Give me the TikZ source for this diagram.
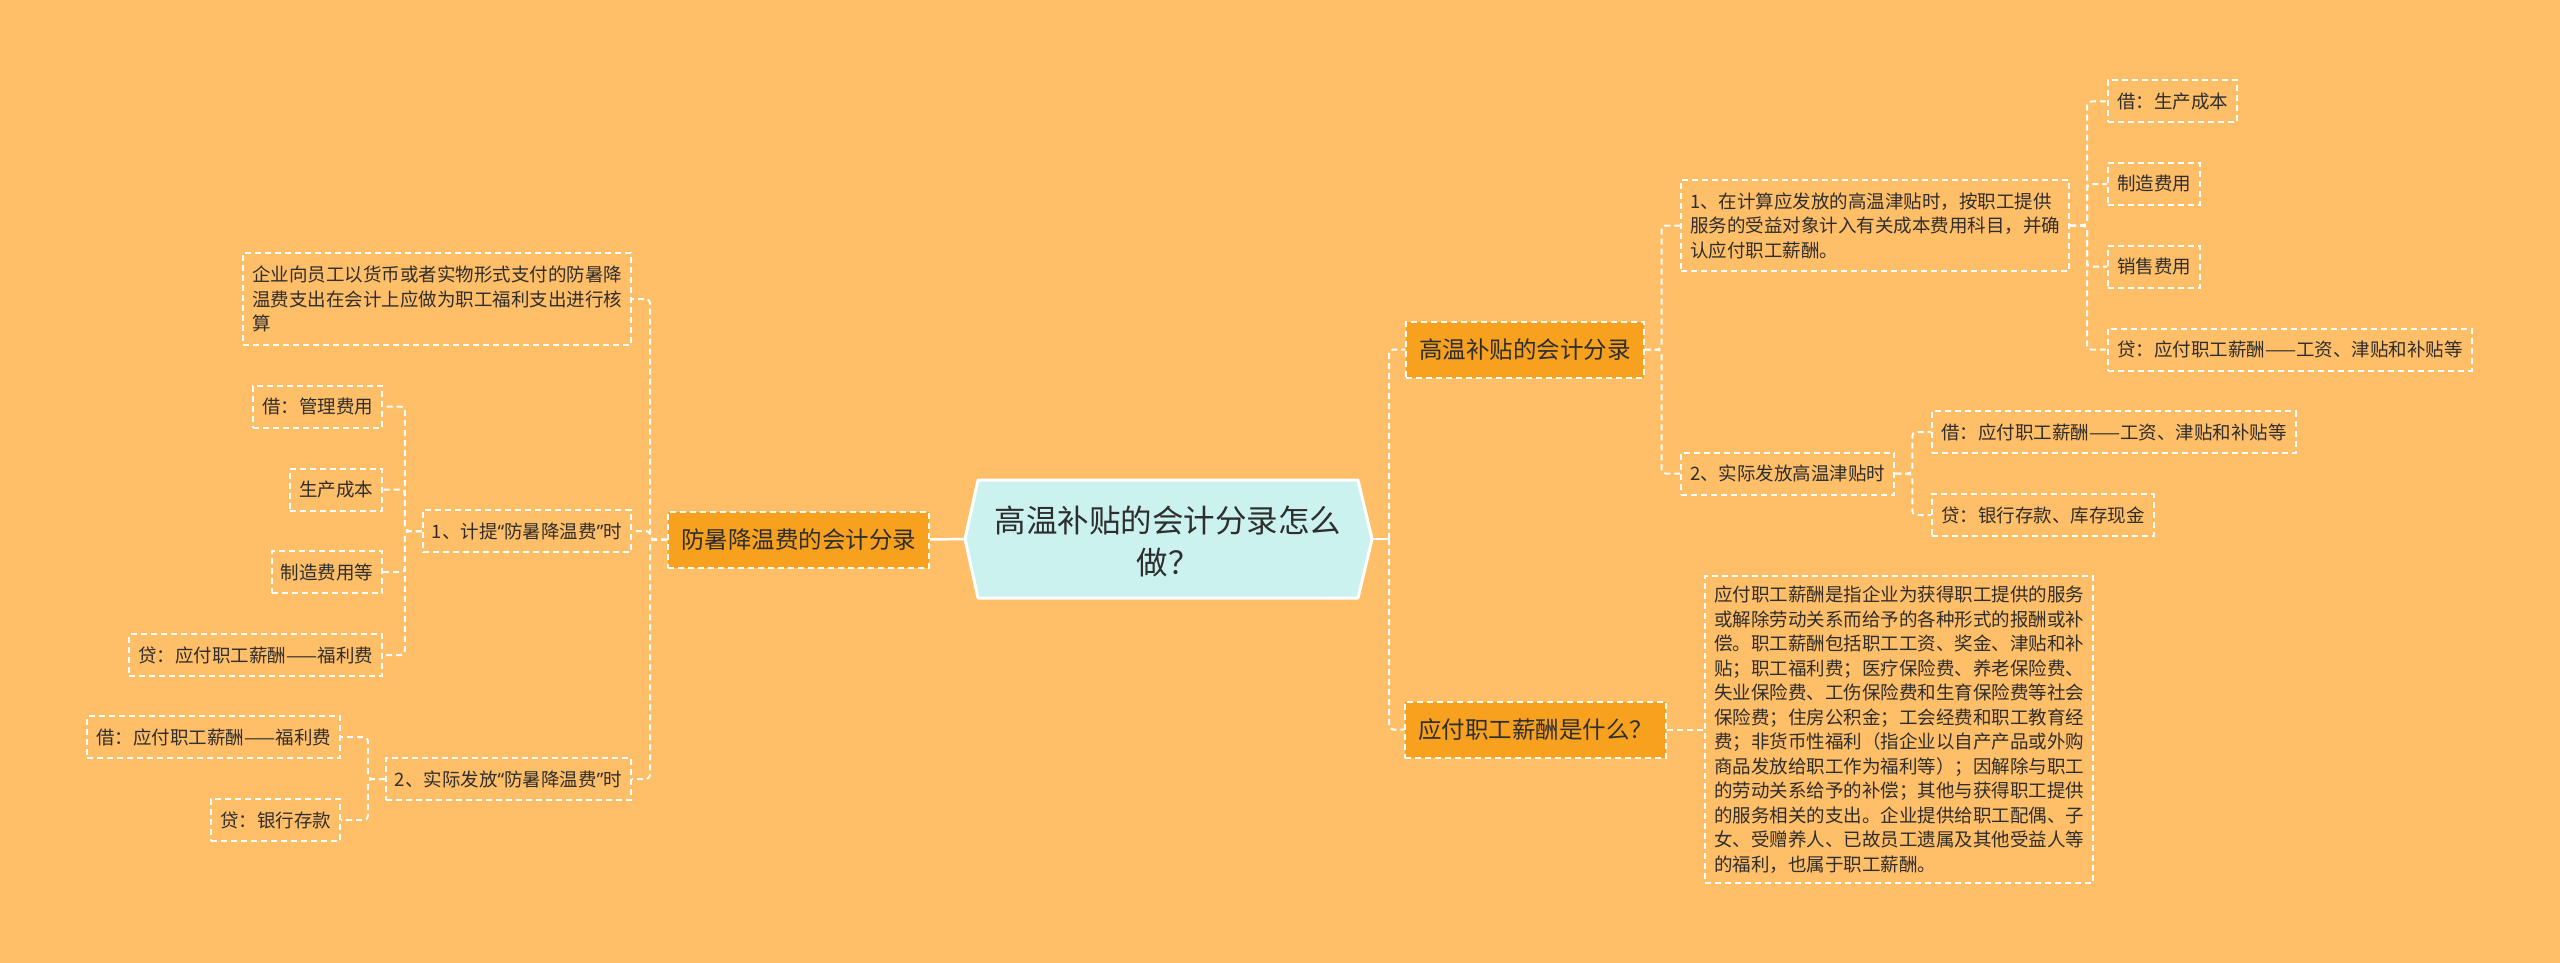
\documentclass[tikz,border=0pt]{standalone}
\usepackage{fontspec}
\setmainfont{Noto Sans CJK SC}
\newfontfamily\quotefont{Noto Sans}
\newcommand{\quoted}[1]{{\quotefont“}#1{\quotefont”}}
\usetikzlibrary{positioning}
\definecolor{Paper}{HTML}{FFBE68}
\definecolor{Topic}{HTML}{F8A11F}
\definecolor{Core}{HTML}{CBF2EF}
\definecolor{Ink}{HTML}{2E2E2E}

\begin{document}
\begin{tikzpicture}[x=1pt,y=-1pt,
        leaf/.style={draw=white,line width=2pt,dash pattern=on 6pt off 4pt,text=Ink,font=\fontsize{18.5}{24.5}\selectfont,align=left,minimum height=42pt,inner xsep=9pt,inner ysep=0pt},
        topic/.style={leaf,fill=Topic,font=\fontsize{23.5}{30}\selectfont,minimum height=56pt,inner xsep=13pt},
        link/.style={white,line width=2pt,dash pattern=on 6pt off 4pt,rounded corners=4pt},
        stem/.style={white,line width=2.5pt}]
        \fill[Paper](0,0)rectangle(2560,963);
        \useasboundingbox(0,0)rectangle(2560,963);
        \filldraw[fill=Core,draw=white,line width=3pt,line join=round](965,539)--(978,480)--(1358,480)--(1372,539)--(1358,598)--(978,598)--cycle;
        \coordinate(ctrW)at(965,539);
        \coordinate(ctrE)at(1372,539);
        \node[text=Ink,font=\fontsize{31.5}{42}\selectfont,align=center](ctr)at(1168,541){高温补贴的会计分录怎么\\做？};
        \node[topic,anchor=west](pay)at(1405,349.5){高温补贴的会计分录};
        \node[leaf,anchor=west,minimum height=91pt](payA)at(1680,225.5){1、在计算应发放的高温津贴时，按职工提供\\服务的受益对象计入有关成本费用科目，并确\\认应付职工薪酬。};
        \node[leaf,anchor=west](payA1)at(2107,101.5){借：生产成本};
        \node[leaf,anchor=west](payA2)at(2107,184){制造费用};
        \node[leaf,anchor=west](payA3)at(2107,266.5){销售费用};
        \node[leaf,anchor=west](payA4)at(2107,349.5){贷：应付职工薪酬——工资、津贴和补贴等};
        \node[leaf,anchor=west](payB)at(1680,473.5){2、实际发放高温津贴时};
        \node[leaf,anchor=west](payB1)at(1931,432){借：应付职工薪酬——工资、津贴和补贴等};
        \node[leaf,anchor=west](payB2)at(1931,515){贷：银行存款、库存现金};
        \node[topic,anchor=west](wage)at(1404,729.5){应付职工薪酬是什么？};
        \node[leaf,anchor=west,minimum height=307pt](wageA)at(1704,729.5){应付职工薪酬是指企业为获得职工提供的服务\\或解除劳动关系而给予的各种形式的报酬或补\\偿。职工薪酬包括职工工资、奖金、津贴和补\\贴；职工福利费；医疗保险费、养老保险费、\\失业保险费、工伤保险费和生育保险费等社会\\保险费；住房公积金；工会经费和职工教育经\\费；非货币性福利（指企业以自产产品或外购\\商品发放给职工作为福利等）；因解除与职工\\的劳动关系给予的补偿；其他与获得职工提供\\的服务相关的支出。企业提供给职工配偶、子\\女、受赠养人、已故员工遗属及其他受益人等\\的福利，也属于职工薪酬。};
        \node[topic,anchor=east](cool)at(930,539.5){防暑降温费的会计分录};
        \node[leaf,anchor=east,minimum height=92pt](coolA)at(632,299){企业向员工以货币或者实物形式支付的防暑降\\温费支出在会计上应做为职工福利支出进行核\\算};
        \node[leaf,anchor=east](coolB)at(632,531){1、计提\quoted{防暑降温费}时};
        \node[leaf,anchor=east](coolB1)at(383,406.5){借：管理费用};
        \node[leaf,anchor=east](coolB2)at(383,489.5){生产成本};
        \node[leaf,anchor=east](coolB3)at(383,572){制造费用等};
        \node[leaf,anchor=east](coolB4)at(383,655){贷：应付职工薪酬——福利费};
        \node[leaf,anchor=east](coolC)at(632,779){2、实际发放\quoted{防暑降温费}时};
        \node[leaf,anchor=east](coolC1)at(341,737){借：应付职工薪酬——福利费};
        \node[leaf,anchor=east](coolC2)at(341,820){贷：银行存款};
        \draw[stem](ctrE)--++(17,0);
        \draw[stem](ctrW)--(cool.east);
        \draw[link](ctrE)++(17,0)|-(pay.west);
        \draw[link](ctrE)++(17,0)|-(wage.west);
        \draw[link](pay.east)--++(17,0)|-(payA.west);
        \draw[link](pay.east)--++(17,0)|-(payB.west);
        \draw[link](payA.east)--++(17,0)|-(payA1.west);
        \draw[link](payA.east)--++(17,0)|-(payA2.west);
        \draw[link](payA.east)--++(17,0)|-(payA3.west);
        \draw[link](payA.east)--++(17,0)|-(payA4.west);
        \draw[link](payB.east)--++(17,0)|-(payB1.west);
        \draw[link](payB.east)--++(17,0)|-(payB2.west);
        \draw[link](wage.east)--(wageA.west);
        \draw[link](cool.west)--++(-17,0)|-(coolA.east);
        \draw[link](cool.west)--++(-17,0)|-(coolB.east);
        \draw[link](cool.west)--++(-17,0)|-(coolC.east);
        \draw[link](coolB.west)--++(-17,0)|-(coolB1.east);
        \draw[link](coolB.west)--++(-17,0)|-(coolB2.east);
        \draw[link](coolB.west)--++(-17,0)|-(coolB3.east);
        \draw[link](coolB.west)--++(-17,0)|-(coolB4.east);
        \draw[link](coolC.west)--++(-17,0)|-(coolC1.east);
        \draw[link](coolC.west)--++(-17,0)|-(coolC2.east);
      \end{tikzpicture}
\end{document}
